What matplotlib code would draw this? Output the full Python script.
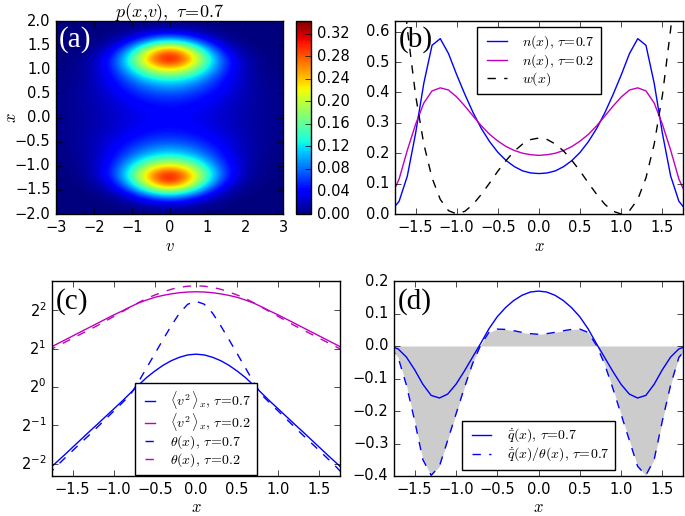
import numpy as np
import matplotlib
matplotlib.use('Agg')
import matplotlib.pyplot as plt

plt.style.use('classic')
plt.rcParams['mathtext.fontset'] = 'cm'
plt.rcParams['font.family'] = ['DejaVu Sans']
plt.rcParams['xtick.labelsize'] = 10.5
plt.rcParams['ytick.labelsize'] = 10.5
plt.rcParams['axes.labelsize'] = 12
plt.rcParams['figure.facecolor'] = 'white'
plt.rcParams['savefig.facecolor'] = 'white'

# ---------------- data ----------------
x = np.linspace(-1.8, 1.8, 37)

n_tau07 = [0.008, 0.042, 0.125, 0.265, 0.430, 0.555, 0.577, 0.528, 0.458, 0.393, 0.333, 0.281, 0.238,
           0.203, 0.176, 0.156, 0.142, 0.135, 0.133, 0.135, 0.142, 0.156, 0.176, 0.203, 0.238, 0.281,
           0.333, 0.393, 0.458, 0.528, 0.577, 0.555, 0.430, 0.265, 0.125, 0.042, 0.008]
n_tau02 = [0.055, 0.115, 0.210, 0.295, 0.365, 0.405, 0.415, 0.408, 0.385, 0.355, 0.322, 0.290, 0.262,
           0.240, 0.222, 0.209, 0.200, 0.195, 0.193, 0.195, 0.200, 0.209, 0.222, 0.240, 0.262, 0.290,
           0.322, 0.355, 0.385, 0.408, 0.415, 0.405, 0.365, 0.295, 0.210, 0.115, 0.055]
w_pot = [1.254, 0.893, 0.608, 0.391, 0.230, 0.119, 0.048, 0.011, 0.000, 0.009, 0.032, 0.065, 0.102,
         0.141, 0.176, 0.207, 0.230, 0.245, 0.250, 0.245, 0.230, 0.207, 0.176, 0.141, 0.102, 0.065,
         0.032, 0.009, 0.000, 0.011, 0.048, 0.119, 0.230, 0.391, 0.608, 0.893, 1.254]

v2_tau07 = [0.222, 0.255, 0.292, 0.336, 0.386, 0.444, 0.509, 0.585, 0.672, 0.772, 0.893, 1.033, 1.187,
            1.335, 1.481, 1.610, 1.713, 1.786, 1.811, 1.786, 1.713, 1.610, 1.481, 1.335, 1.187, 1.033,
            0.893, 0.772, 0.672, 0.585, 0.509, 0.444, 0.386, 0.336, 0.292, 0.255, 0.222]
v2_tau02 = [2.000, 2.158, 2.329, 2.514, 2.713, 2.928, 3.160, 3.411, 3.681, 3.945, 4.257, 4.563, 4.823,
            5.063, 5.242, 5.389, 5.502, 5.571, 5.595, 5.571, 5.502, 5.389, 5.242, 5.063, 4.823, 4.563,
            4.257, 3.945, 3.681, 3.411, 3.160, 2.928, 2.713, 2.514, 2.329, 2.158, 2.000]
theta_tau07 = [0.203, 0.237, 0.274, 0.316, 0.364, 0.418, 0.483, 0.559, 0.646, 0.747, 0.865, 1.094, 1.414,
               1.828, 2.362, 3.031, 3.811, 4.469, 4.714, 4.469, 3.811, 3.031, 2.362, 1.828, 1.414, 1.094,
               0.865, 0.747, 0.646, 0.559, 0.483, 0.418, 0.364, 0.316, 0.274, 0.237, 0.203]
theta_tau02 = [1.919, 2.071, 2.235, 2.412, 2.603, 2.809, 3.031, 3.294, 3.580, 3.891, 4.228, 4.595, 4.959,
               5.278, 5.579, 5.856, 6.063, 6.190, 6.243, 6.190, 6.063, 5.856, 5.579, 5.278, 4.959, 4.595,
               4.228, 3.891, 3.580, 3.294, 3.031, 2.809, 2.603, 2.412, 2.235, 2.071, 1.919]

qdot = [0.000, -0.009, -0.034, -0.073, -0.118, -0.152, -0.160, -0.148, -0.118, -0.078, -0.035, 0.008,
        0.053, 0.090, 0.118, 0.140, 0.156, 0.166, 0.169, 0.166, 0.156, 0.140, 0.118, 0.090, 0.053,
        0.008, -0.035, -0.078, -0.118, -0.148, -0.160, -0.152, -0.118, -0.073, -0.034, -0.009, 0.000]
qdot_theta = [-0.005, -0.035, -0.120, -0.230, -0.350, -0.398, -0.370, -0.290, -0.210, -0.130, -0.055,
              0.003, 0.042, 0.052, 0.051, 0.047, 0.042, 0.038, 0.036, 0.038, 0.042, 0.047, 0.051, 0.052,
              0.042, 0.003, -0.055, -0.130, -0.210, -0.290, -0.370, -0.398, -0.350, -0.230, -0.120,
              -0.035, -0.005]

# p(x, v) grid: rows x = -2.0 ... 2.0 (step 0.2), columns v = -3 ... 3 (step 0.5)
p_v = np.linspace(-3, 3, 13)
p_x = np.linspace(-2, 2, 21)
p_grid = np.array([
    [0, 0, 0, 0, 0.0002, 0.0007, 0.0010, 0.0007, 0.0002, 0, 0, 0, 0],
    [0, 0, 0.0001, 0.0008, 0.0048, 0.0140, 0.0200, 0.0140, 0.0048, 0.0008, 0.0001, 0, 0],
    [0, 0.0001, 0.0010, 0.0082, 0.0365, 0.0891, 0.1200, 0.0891, 0.0365, 0.0082, 0.0010, 0.0001, 0],
    [0.0001, 0.0007, 0.0061, 0.0328, 0.1090, 0.2240, 0.2850, 0.2240, 0.1090, 0.0328, 0.0061, 0.0007, 0.0001],
    [0.0003, 0.0024, 0.0144, 0.0570, 0.1525, 0.2750, 0.3350, 0.2750, 0.1525, 0.0570, 0.0144, 0.0024, 0.0003],
    [0.0006, 0.0036, 0.0163, 0.0524, 0.1206, 0.1990, 0.2350, 0.1990, 0.1206, 0.0524, 0.0163, 0.0036, 0.0006],
    [0.0012, 0.0050, 0.0165, 0.0413, 0.0798, 0.1184, 0.1350, 0.1184, 0.0798, 0.0413, 0.0165, 0.0050, 0.0012],
    [0.0021, 0.0065, 0.0166, 0.0345, 0.0580, 0.0793, 0.0880, 0.0793, 0.0580, 0.0345, 0.0166, 0.0065, 0.0021],
    [0.0029, 0.0072, 0.0153, 0.0274, 0.0416, 0.0534, 0.0580, 0.0534, 0.0416, 0.0274, 0.0153, 0.0072, 0.0029],
    [0.0031, 0.0070, 0.0136, 0.0227, 0.0328, 0.0409, 0.0440, 0.0409, 0.0328, 0.0227, 0.0136, 0.0070, 0.0031],
    [0.0033, 0.0070, 0.0132, 0.0214, 0.0303, 0.0373, 0.0400, 0.0373, 0.0303, 0.0214, 0.0132, 0.0070, 0.0033],
    [0.0031, 0.0070, 0.0136, 0.0227, 0.0328, 0.0409, 0.0440, 0.0409, 0.0328, 0.0227, 0.0136, 0.0070, 0.0031],
    [0.0029, 0.0072, 0.0153, 0.0274, 0.0416, 0.0534, 0.0580, 0.0534, 0.0416, 0.0274, 0.0153, 0.0072, 0.0029],
    [0.0021, 0.0065, 0.0166, 0.0345, 0.0580, 0.0793, 0.0880, 0.0793, 0.0580, 0.0345, 0.0166, 0.0065, 0.0021],
    [0.0012, 0.0050, 0.0165, 0.0413, 0.0798, 0.1184, 0.1350, 0.1184, 0.0798, 0.0413, 0.0165, 0.0050, 0.0012],
    [0.0006, 0.0036, 0.0163, 0.0524, 0.1206, 0.1990, 0.2350, 0.1990, 0.1206, 0.0524, 0.0163, 0.0036, 0.0006],
    [0.0003, 0.0024, 0.0144, 0.0570, 0.1525, 0.2750, 0.3350, 0.2750, 0.1525, 0.0570, 0.0144, 0.0024, 0.0003],
    [0.0001, 0.0007, 0.0061, 0.0328, 0.1090, 0.2240, 0.2850, 0.2240, 0.1090, 0.0328, 0.0061, 0.0007, 0.0001],
    [0, 0.0001, 0.0010, 0.0082, 0.0365, 0.0891, 0.1200, 0.0891, 0.0365, 0.0082, 0.0010, 0.0001, 0],
    [0, 0, 0.0001, 0.0008, 0.0048, 0.0140, 0.0200, 0.0140, 0.0048, 0.0008, 0.0001, 0, 0],
    [0, 0, 0, 0, 0.0002, 0.0007, 0.0010, 0.0007, 0.0002, 0, 0, 0, 0],
])
cbar_ticks = [0.00, 0.04, 0.08, 0.12, 0.16, 0.20, 0.24, 0.28, 0.32]

# ---------------- figure ----------------
W, H = 685, 516
fig = plt.figure(figsize=(W / 100, H / 100), dpi=100)


def rect(l, t, r, b):
    return [l / W, 1 - b / H, (r - l) / W, (b - t) / H]


axa = fig.add_axes(rect(56, 21, 283, 214))
cax = fig.add_axes(rect(296, 21, 311, 214))
axb = fig.add_axes(rect(395, 21, 683, 214))
axc = fig.add_axes(rect(52, 281, 340, 476))
axd = fig.add_axes(rect(394, 281, 683, 476))

lab_kw = dict(fontsize=21, family='Liberation Serif', ha='left', va='baseline')
leg_kw = dict(fontsize=10, borderpad=0.45, handletextpad=0.8)

# (a)
dv = (p_v[1] - p_v[0]) / 2
dx = (p_x[1] - p_x[0]) / 2
im = axa.imshow(p_grid, origin='lower', cmap='jet', vmin=0, vmax=0.343,
                extent=[p_v[0] - dv, p_v[-1] + dv, p_x[0] - dx, p_x[-1] + dx],
                interpolation='bicubic', aspect='auto')
axa.set_xlim(-3, 3)
axa.set_ylim(-2, 2)
axa.set_xlabel(r'$v$', labelpad=2)
axa.set_ylabel(r'$x$')
axa.yaxis.set_label_coords(-0.16, 0.5)
axa.set_title(r'$p(x{,}v),\ \tau\!=\!0.7$', fontsize=13, pad=3)
axa.text(0.013, 0.865, '(a)', transform=axa.transAxes, color='white', **lab_kw)
cb = fig.colorbar(im, cax=cax, ticks=cbar_ticks, format='%.2f')
cb.ax.tick_params(labelsize=10.5)

# (b)
axb.plot(x, n_tau07, 'b-', lw=1.0, label=r'$n(x),\,\tau\!=\!0.7$')
axb.plot(x, n_tau02, 'm-', lw=1.0, label=r'$n(x),\,\tau\!=\!0.2$')
axb.plot(x, w_pot, 'k--', lw=1.0, label=r'$w(x)$')
axb.set_xlim(-1.75, 1.75)
axb.set_ylim(0, 0.635)
axb.set_yticks([0.0, 0.1, 0.2, 0.3, 0.4, 0.5, 0.6])
axb.set_xlabel(r'$x$', labelpad=2)
axb.text(0.012, 0.865, '(b)', transform=axb.transAxes, color='black', **lab_kw)
axb.legend(loc='upper center', handlelength=2.0, borderaxespad=0.45, labelspacing=0.05, **leg_kw)

# (c)
axc.plot(x, v2_tau07, 'b-', lw=1.0, label=r'$\langle v^2\,\rangle_x,\,\tau\!=\!0.7$')
axc.plot(x, v2_tau02, 'm-', lw=1.0, label=r'$\langle v^2\,\rangle_x,\,\tau\!=\!0.2$')
axc.plot(x, theta_tau07, 'b--', lw=1.0, label=r'$\theta(x),\,\tau\!=\!0.7$')
axc.plot(x, theta_tau02, 'm--', lw=1.0, label=r'$\theta(x),\,\tau\!=\!0.2$')
axc.set_yscale('log', base=2)
axc.set_xlim(-1.75, 1.75)
axc.set_ylim(0.2, 6.8)
axc.set_xlabel(r'$x$', labelpad=1)
axc.text(0.012, 0.86, '(c)', transform=axc.transAxes, color='black', **lab_kw)
axc.legend(loc='lower center', handlelength=1.3, borderaxespad=0.05, labelspacing=0.0, **leg_kw)

# (d)
axd.fill_between(x, qdot_theta, 0, color='0.8', lw=0)
axd.plot(x, qdot, 'b-', lw=1.0, label=r'$\dot{\bar{q}}(x),\,\tau\!=\!0.7$')
axd.plot(x, qdot_theta, 'b--', lw=1.0, label=r'$\dot{\bar{q}}(x)/\theta(x),\,\tau\!=\!0.7$')
axd.set_xlim(-1.75, 1.75)
axd.set_ylim(-0.4, 0.2)
axd.set_xlabel(r'$x$', labelpad=1)
axd.text(0.012, 0.86, '(d)', transform=axd.transAxes, color='black', **lab_kw)
axd.legend(loc='lower center', handlelength=2.0, borderaxespad=0.4, labelspacing=0.05, **leg_kw)

fig.savefig('out.png', dpi=100)
